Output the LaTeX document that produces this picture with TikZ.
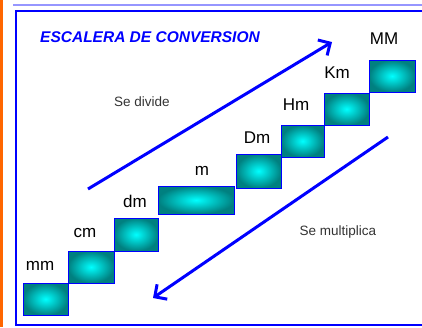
\documentclass[tikz,border=0pt]{standalone}
\usepackage{fontspec}
\setmainfont{Liberation Sans}
\usepackage{tikz}
\usetikzlibrary{arrows.meta}
\usetikzlibrary{positioning}
\definecolor{framecol}{RGB}{0,0,255}
\definecolor{edgecol}{RGB}{255,102,0}
\definecolor{toplinecol}{RGB}{150,150,255}
\definecolor{stepdark}{RGB}{0,128,128}
\tikzset{stepbox/.style={draw=blue, line width=0.8pt, inner color=cyan, outer color=stepdark, inner sep=0pt}}
\tikzset{unit/.style={font=\fontsize{17}{20}\selectfont, inner sep=0pt}}
\tikzset{bigarrow/.style={draw=framecol, line width=3pt, -{Straight Barb[length=9pt,width=18pt,line width=3pt]}}}
\tikzset{note/.style={font=\fontsize{13.5}{16}\selectfont, text=black!80, inner sep=0pt}}

\begin{document}
\begin{tikzpicture}[x=1pt, y=-1pt]
	\useasboundingbox (0,0) rectangle (422,327);
	\fill[white] (0,0) rectangle (422,327);

	% frame
	\draw[edgecol, line width=3pt] (1.5,0) -- (1.5,327);
	\draw[toplinecol, line width=2pt] (13,5) -- (422,5);
	\draw[framecol, line width=2pt] (16,11) rectangle (430,325);

	% title
	\node[text=framecol, font=\fontsize{15.5}{18}\selectfont\bfseries\itshape, inner sep=0pt] (title) at (150,37) {ESCALERA DE CONVERSION};

	% steps
	\node[stepbox, minimum width=45pt, minimum height=32pt] (mm) at (45.5,299) {};
	\node[stepbox, minimum width=46pt, minimum height=32pt] (cm) at (91,267) {};
	\node[stepbox, minimum width=44pt, minimum height=33pt] (dm) at (136,234.5) {};
	\node[stepbox, minimum width=76pt, minimum height=28pt] (m) at (196,200) {};
	\node[stepbox, minimum width=45pt, minimum height=34pt] (Dm) at (258.5,171) {};
	\node[stepbox, minimum width=43pt, minimum height=32pt] (Hm) at (302.5,141) {};
	\node[stepbox, minimum width=45pt, minimum height=32pt] (Km) at (346.5,109) {};
	\node[stepbox, minimum width=46pt, minimum height=32pt] (MM) at (392,76) {};

	% labels
	\node[unit] (mm label) at (40,266) {mm};
	\node[unit] (cm label) at (85,233) {cm};
	\node[unit] (dm label) at (135,201) {dm};
	\node[unit] (m label) at (202,171) {m};
	\node[unit] (Dm label) at (257,137.5) {Dm};
	\node[unit] (Hm label) at (296,104.5) {Hm};
	\node[unit] (Km label) at (337,72.5) {Km};
	\node[unit] (MM label) at (384,39) {MM};

	% arrows
	\coordinate (up start) at (88,189);		\coordinate (up end) at (332,42);
	\coordinate (down start) at (388,137);	\coordinate (down end) at (153,298);
	\draw[bigarrow] (up start) -- (up end);
	\draw[bigarrow] (down start) -- (down end);

	\node[note] (divide) at (142,102) {Se divide};
	\node[note] (multiply) at (338,232) {Se multiplica};
\end{tikzpicture}
\end{document}
